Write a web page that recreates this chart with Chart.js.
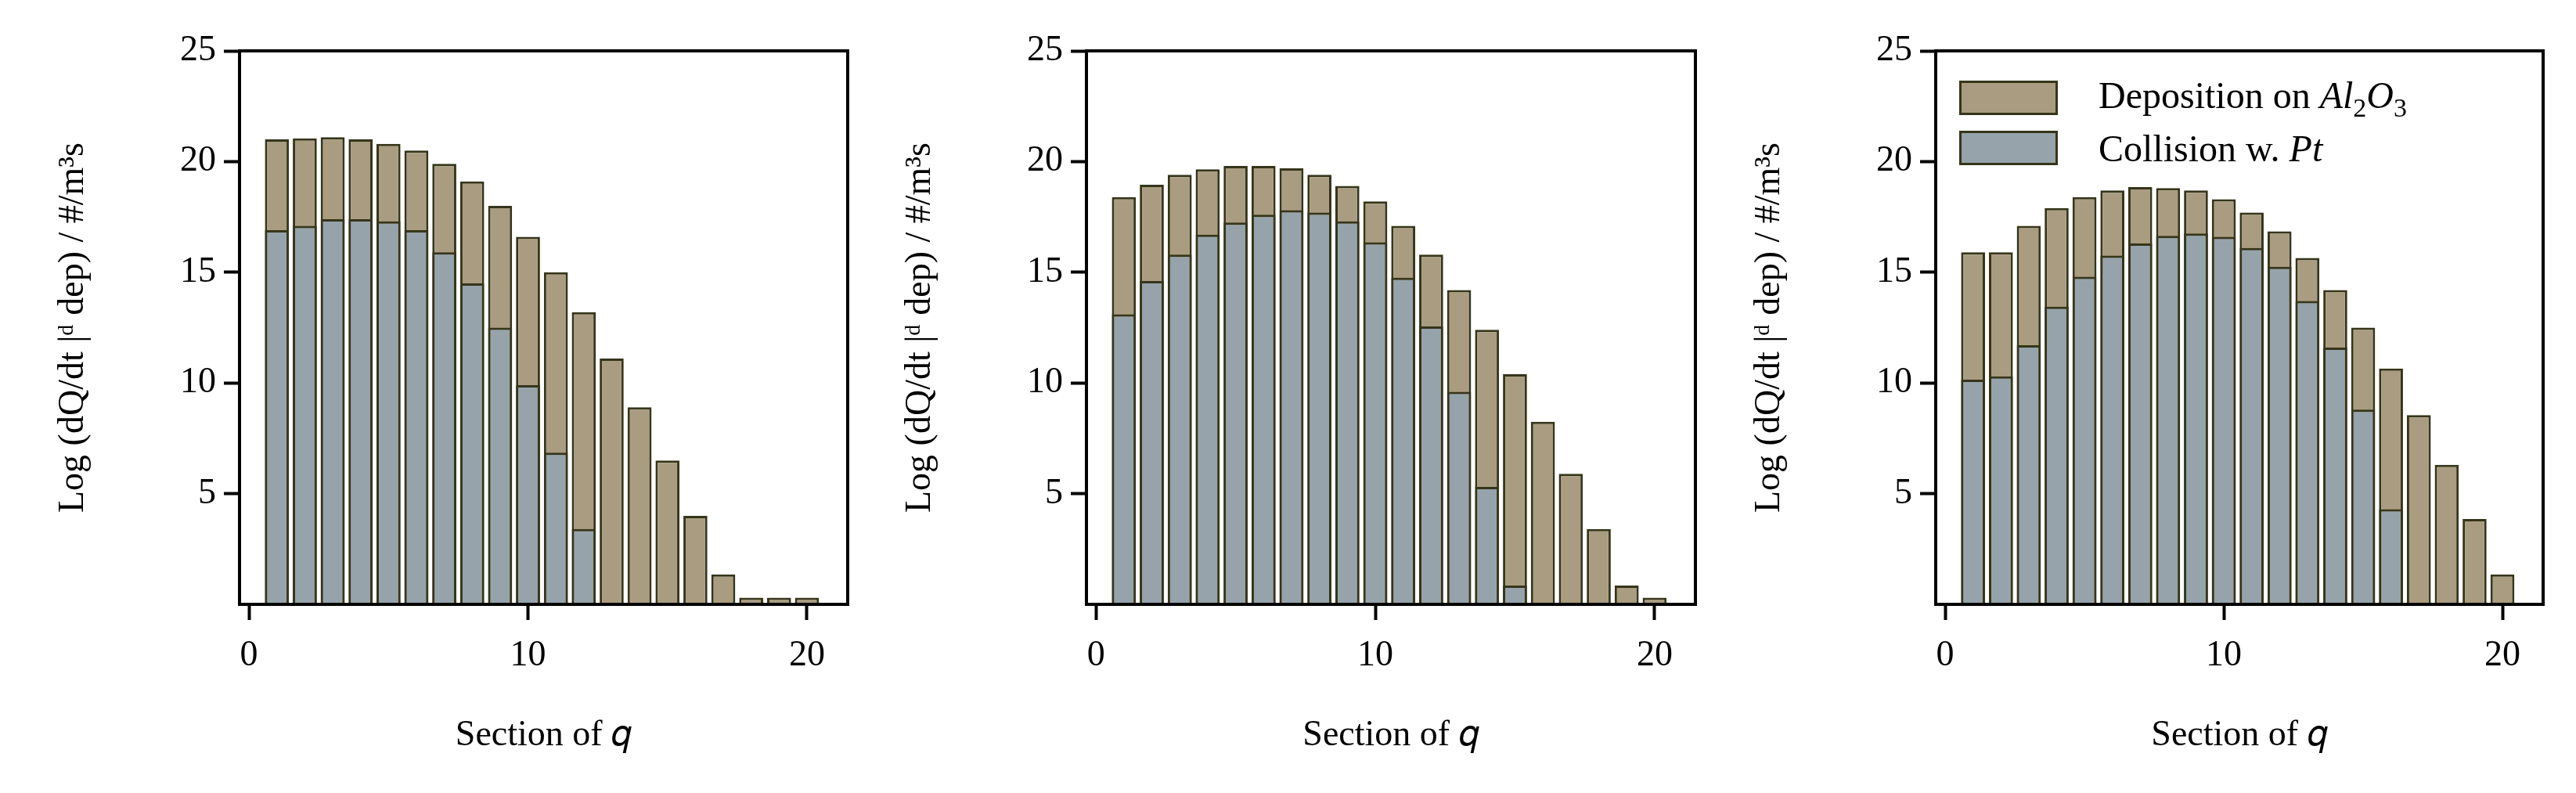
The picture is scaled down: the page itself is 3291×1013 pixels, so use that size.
<!DOCTYPE html>
<html>
<head>
<meta charset="utf-8">
<script src="https://cdn.jsdelivr.net/npm/chart.js@4/dist/chart.umd.min.js"></script>
<style>
  body { margin: 0; background: #fff; width: 3291px; height: 1013px; position: relative; overflow: hidden; }
  .box { position: absolute; top: 0; height: 1013px; }
  .legend { position: absolute; left: 2503px; top: 93px; font-family: "Liberation Serif", serif; font-size: 48px; color: #000; }
  .legend .row { display: flex; align-items: center; height: 64px; }
  .legend .sw { width: 120px; height: 38px; border: 3px solid #35351a; margin-right: 52px; }
</style>
</head>
<body>
<div class="box" style="left:66px;width:1037px"><canvas id="c1"></canvas></div>
<div class="box" style="left:1148px;width:1038px"><canvas id="c2"></canvas></div>
<div class="box" style="left:2233px;width:1036px"><canvas id="c3"></canvas></div>
<div class="legend">
  <div class="row"><div class="sw" style="background:#a99c80"></div><span>Deposition on <i>Al</i><sub style="font-size:34px">2</sub><i>O</i><sub style="font-size:34px">3</sub></span></div>
  <div class="row"><div class="sw" style="background:#96a3ab"></div><span>Collision w. <i>Pt</i></span></div>
</div>
<script>
// sections 1..20
const sections = [1,2,3,4,5,6,7,8,9,10,11,12,13,14,15,16,17,18,19,20];

// panel 1
const dep1 = [21.0,21.05,21.1,21.0,20.8,20.5,19.9,19.1,18.0,16.6,15.0,13.2,11.1,8.9,6.5,4.0,1.35,0.3,0.3,0.3];
const col1 = [16.9,17.1,17.4,17.4,17.3,16.9,15.9,14.5,12.5,9.9,6.85,3.4,0,0,0,0,0,0,0,0];
// panel 2
const dep2 = [18.4,18.95,19.4,19.65,19.8,19.8,19.7,19.4,18.9,18.2,17.1,15.8,14.2,12.4,10.4,8.25,5.9,3.4,0.85,0.3];
const col2 = [13.1,14.6,15.8,16.7,17.25,17.6,17.8,17.7,17.3,16.35,14.75,12.55,9.6,5.3,0.85,0,0,0,0,0];
// panel 3
const dep3 = [15.9,15.9,17.1,17.9,18.4,18.7,18.85,18.8,18.7,18.3,17.7,16.85,15.65,14.2,12.5,10.65,8.55,6.3,3.85,1.35];
const col3 = [10.15,10.3,11.7,13.45,14.8,15.75,16.3,16.65,16.75,16.6,16.1,15.25,13.7,11.6,8.8,4.3,0,0,0,0];

const xTicks = [0, 10, 20];
const yTicks = [5, 10, 15, 20, 25];

const FONT = "Liberation Serif";
const EDGE = "#35351a";

const frame = {
  id: "frame",
  afterDraw(chart) {
    const a = chart.chartArea, ctx = chart.ctx;
    ctx.save();
    ctx.strokeStyle = "#000";
    ctx.lineWidth = 4;
    ctx.strokeRect(a.left, a.top, a.right - a.left, a.bottom - a.top);
    ctx.restore();
  }
};

function pts(vals) {
  return sections.map((s, i) => ({ x: s, y: vals[i] }));
}

function makeChart(id, dep, col) {
  new Chart(document.getElementById(id), {
    type: "bar",
    data: {
      datasets: [{
        label: "Deposition on Al2O3",
        data: pts(dep),
        backgroundColor: "#a99c80",
        borderColor: EDGE,
        borderWidth: 3,
        order: 2
      }, {
        label: "Collision w. Pt",
        data: pts(col),
        backgroundColor: "#96a3ab",
        borderColor: EDGE,
        borderWidth: 3,
        order: 1
      }]
    },
    options: {
      responsive: true,
      maintainAspectRatio: false,
      animation: false,
      grouped: false,
      barPercentage: 0.86,
      categoryPercentage: 1,
      layout: { padding: { top: 65, right: 20, bottom: 45, left: 0 } },
      plugins: { legend: { display: false }, tooltip: { enabled: false } },
      scales: {
        x: {
          type: "linear",
          offset: false,
          bounds: "ticks",
          min: -0.34,
          max: 21.46,
          afterDataLimits: s => { s.min = -0.34; s.max = 21.46; },
          afterBuildTicks: s => { s.ticks = xTicks.map(v => ({ value: v })); },
          afterFit: s => { s.height = 196; },
          border: { color: "#000", width: 4 },
          grid: { offset: false, drawOnChartArea: false, tickLength: 20, tickWidth: 4, tickColor: "#000" },
          ticks: { color: "#000", font: { family: FONT, size: 46 }, padding: 18, maxRotation: 0 },
          title: { display: true, text: "Section of 𝑞", color: "#000", font: { family: FONT, size: 46 }, padding: 0 }
        },
        y: {
          min: 0,
          max: 25,
          afterBuildTicks: s => { s.ticks = yTicks.map(v => ({ value: v })); },
          afterFit: s => { s.width = 240; },
          border: { color: "#000", width: 4 },
          grid: { drawOnChartArea: false, tickLength: 20, tickWidth: 4, tickColor: "#000" },
          ticks: { color: "#000", font: { family: FONT, size: 46 }, padding: 10 },
          title: { display: true, text: "Log (dQ/dt |ᵈ dep) / #/m³s", color: "#000", font: { family: FONT, size: 46 }, padding: { top: 0, bottom: 0 } }
        }
      }
    },
    plugins: [frame]
  });
}

makeChart("c1", dep1, col1);
makeChart("c2", dep2, col2);
makeChart("c3", dep3, col3);
</script>
</body>
</html>
